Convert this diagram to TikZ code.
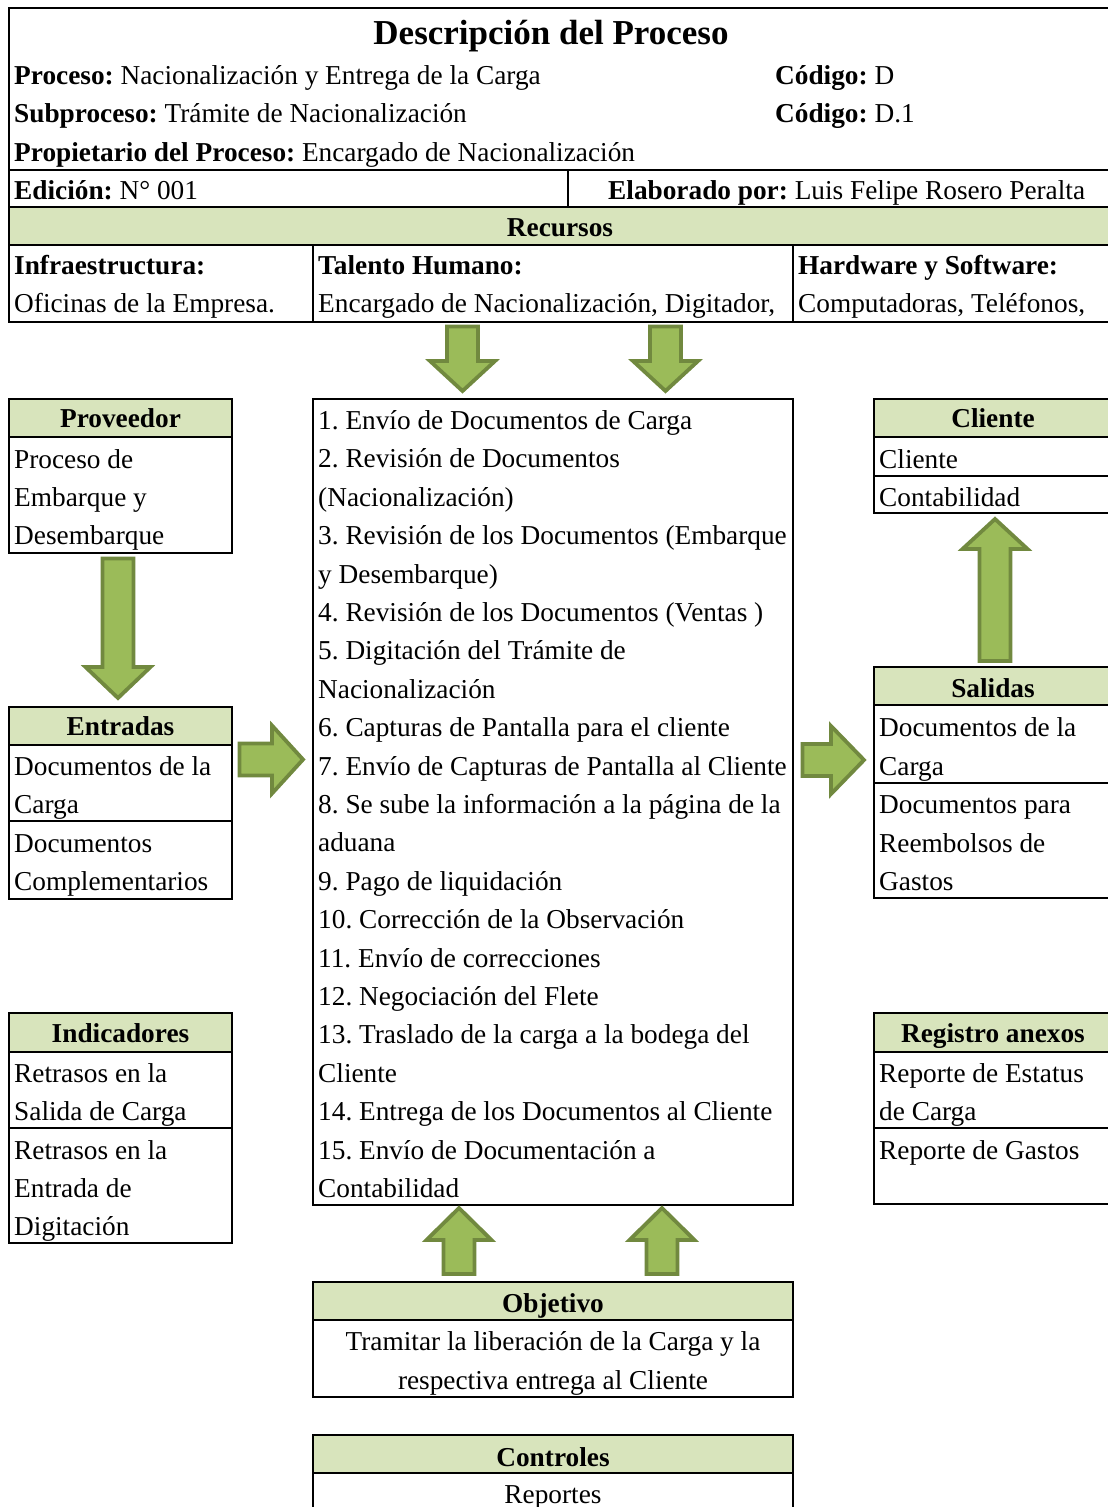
\documentclass[tikz,border=0pt]{standalone}
\usepackage{fontspec}
\setmainfont{Liberation Serif}
\frenchspacing
\definecolor{hdr}{HTML}{D8E4BC}
\definecolor{arrfill}{HTML}{9BBB59}
\definecolor{arrline}{HTML}{71893F}
\newcommand\myvarrow[5]{% cx, ystart, yhead, ytip, name
  \draw[bigarrow] ({#1-15.5},#2) -- ({#1+15.5},#2) -- ({#1+15.5},#3) -- ({#1+32.5},#3)
    -- (#1,#4) coordinate (#5) -- ({#1-32.5},#3) -- ({#1-15.5},#3) -- cycle;}
\newcommand\myharrow[5]{% cy, xstart, xhead, xtip, name
  \draw[bigarrow] (#2,{#1-16}) -- (#2,{#1+16}) -- (#3,{#1+16}) -- (#3,{#1+34})
    -- (#4,#1) coordinate (#5) -- (#3,{#1-34}) -- (#3,{#1-16}) -- cycle;}
\newcommand\mybox[6]{% x1,y1,x2,y2,yheader,name
  \fill[hdr] (#1,#2) rectangle (#3,#5);
  \draw[boxline] (#1,#2) rectangle (#3,#4);
  \draw[boxline] (#1,#5) -- (#3,#5);
  \coordinate (#6) at (#1,#2);}
\begin{document}
\begin{tikzpicture}[x=1pt,y=-1pt,
  txt/.style={anchor=base west,inner sep=0pt,font=\fontsize{27.3}{30}\selectfont},
  ctxt/.style={anchor=base,inner sep=0pt,font=\fontsize{27.3}{30}\selectfont},
  htxt/.style={anchor=base,inner sep=0pt,font=\fontsize{27.3}{30}\selectfont\bfseries},
  boxline/.style={line width=2.3pt,draw=black},
  bigarrow/.style={fill=arrfill,draw=arrline,line width=3.8pt,line join=miter}]
\useasboundingbox (0,0) rectangle (1108,1507);
\fill[white] (0,0) rectangle (1108,1507);

% ===== Header =====
\fill[hdr] (9,207) rectangle (1120,245);
\draw[boxline] (1120,8) -- (9,8) -- (9,322) -- (1120,322);
\draw[boxline] (9,170) -- (1120,170);
\draw[boxline] (9,207) -- (1120,207);
\draw[boxline] (9,245) -- (1120,245);
\draw[boxline] (568,170) -- (568,207);
\draw[boxline] (313,245) -- (313,322);
\draw[boxline] (793,245) -- (793,322);

\node[anchor=base,inner sep=0pt,font=\fontsize{35}{40}\selectfont\bfseries] (title) at (551,44) {Descripción del Proceso};
\node[txt] (proc) at (14,84) {\textbf{Proceso:} Nacionalización y Entrega de la Carga};
\node[txt] (cod1) at (775,84) {\textbf{Código:} D};
\node[txt] (sub) at (14,122) {\textbf{Subproceso:} Trámite de Nacionalización};
\node[txt] (cod2) at (775,122) {\textbf{Código:} D.1};
\node[txt] (prop) at (14,161) {\textbf{Propietario del Proceso:} Encargado de Nacionalización};
\node[txt] (edic) at (14,199) {\textbf{Edición:} N° 001};
\node[txt] (elab) at (608,199) {\textbf{Elaborado por:} Luis Felipe Rosero Peralta};
\node[htxt] (recursos) at (560,236) {Recursos};
\node[txt] (infh) at (14,274) {\textbf{Infraestructura:}};
\node[txt] (talh) at (318,274) {\textbf{Talento Humano:}};
\node[txt] (hwh) at (798,274) {\textbf{Hardware y Software:}};
\node[txt] (inf) at (14,312) {Oficinas de la Empresa.};
\node[txt] (tal) at (318,312) {Encargado de Nacionalización, Digitador,};
\node[txt] (hw) at (798,312) {Computadoras, Teléfonos,};

% ===== Proveedor =====
\mybox{9}{399}{232}{553}{437}{prov}
\node[htxt] (provh) at (120.5,427.5) {Proveedor};
\node[txt] at (14,468.5) {Proceso de};
\node[txt] at (14,506.5) {Embarque y};
\node[txt] at (14,544.5) {Desembarque};

% ===== Entradas =====
\mybox{9}{707}{232}{899}{745}{ent}
\draw[boxline] (9,821) -- (232,821);
\node[htxt] (enth) at (120.5,735.5) {Entradas};
\node[txt] at (14,775.5) {Documentos de la};
\node[txt] at (14,813.5) {Carga};
\node[txt] at (14,852.5) {Documentos};
\node[txt] at (14,890.5) {Complementarios};

% ===== Indicadores =====
\mybox{9}{1013}{232}{1243}{1052}{ind}
\draw[boxline] (9,1128) -- (232,1128);
\node[htxt] (indh) at (120.5,1042.5) {Indicadores};
\node[txt] at (14,1082.5) {Retrasos en la};
\node[txt] at (14,1120.5) {Salida de Carga};
\node[txt] at (14,1159.5) {Retrasos en la};
\node[txt] at (14,1197.5) {Entrada de};
\node[txt] at (14,1235.5) {Digitación};

% ===== Proceso =====
\draw[boxline] (313,399) rectangle (793,1205);
\coordinate (procbox) at (313,399);
\foreach \t [count=\k from 0] in {
  {1. Envío de Documentos de Carga},
  {2. Revisión de Documentos},
  {(Nacionalización)},
  {3. Revisión de los Documentos (Embarque},
  {y Desembarque)},
  {4. Revisión de los Documentos (Ventas )},
  {5. Digitación del Trámite de},
  {Nacionalización},
  {6. Capturas de Pantalla para el cliente},
  {7. Envío de Capturas de Pantalla al Cliente},
  {8. Se sube la información a la página de la},
  {aduana},
  {9. Pago de liquidación},
  {10. Corrección de la Observación},
  {11. Envío de correcciones},
  {12. Negociación del Flete},
  {13. Traslado de la carga a la bodega del},
  {Cliente},
  {14. Entrega de los Documentos al Cliente},
  {15. Envío de Documentación a},
  {Contabilidad}}
  \node[txt] (step\k) at (318,{429.5+38.4*\k}) {\t};

% ===== Cliente =====
\mybox{874}{399}{1120}{513}{437}{cli}
\draw[boxline] (874,476) -- (1120,476);
\node[htxt] (clih) at (993,427.5) {Cliente};
\node[txt] at (879,468.5) {Cliente};
\node[txt] at (879,506.5) {Contabilidad};

% ===== Salidas =====
\mybox{874}{667}{1120}{898}{705}{sal}
\draw[boxline] (874,783) -- (1120,783);
\node[htxt] (salh) at (993,697) {Salidas};
\node[txt] at (879,736.5) {Documentos de la};
\node[txt] at (879,775.5) {Carga};
\node[txt] at (879,813.5) {Documentos para};
\node[txt] at (879,852.5) {Reembolsos de};
\node[txt] at (879,890.5) {Gastos};

% ===== Registro anexos =====
\mybox{874}{1013}{1120}{1204}{1052}{reg}
\draw[boxline] (874,1128) -- (1120,1128);
\node[htxt] (regh) at (993,1042.5) {Registro anexos};
\node[txt] at (879,1082.5) {Reporte de Estatus};
\node[txt] at (879,1120.5) {de Carga};
\node[txt] at (879,1159.5) {Reporte de Gastos};

% ===== Objetivo =====
\mybox{313}{1282}{793}{1397}{1320}{obj}
\node[htxt] (objh) at (553,1312) {Objetivo};
\node[ctxt] at (553,1350.5) {Tramitar la liberación de la Carga y la};
\node[ctxt] at (553,1389.5) {respectiva entrega al Cliente};

% ===== Controles =====
\mybox{313}{1435}{793}{1530}{1473}{ctl}
\node[htxt] (ctlh) at (553,1466) {Controles};
\node[ctxt] at (553,1503.5) {Reportes};

% ===== Arrows =====
\myvarrow{462.5}{326.5}{361}{391}{a1}
\myvarrow{665.5}{326.5}{361}{391}{a2}
\myvarrow{118}{558.5}{667}{698}{a3}
\myharrow{759.5}{239.5}{272}{303}{a4}
\myharrow{760}{802.5}{831}{864}{a5}
\myvarrow{995}{661}{549}{519}{a6}
\myvarrow{459}{1274}{1240}{1208}{a7}
\myvarrow{662}{1274}{1240}{1208}{a8}
\end{tikzpicture}
\end{document}
